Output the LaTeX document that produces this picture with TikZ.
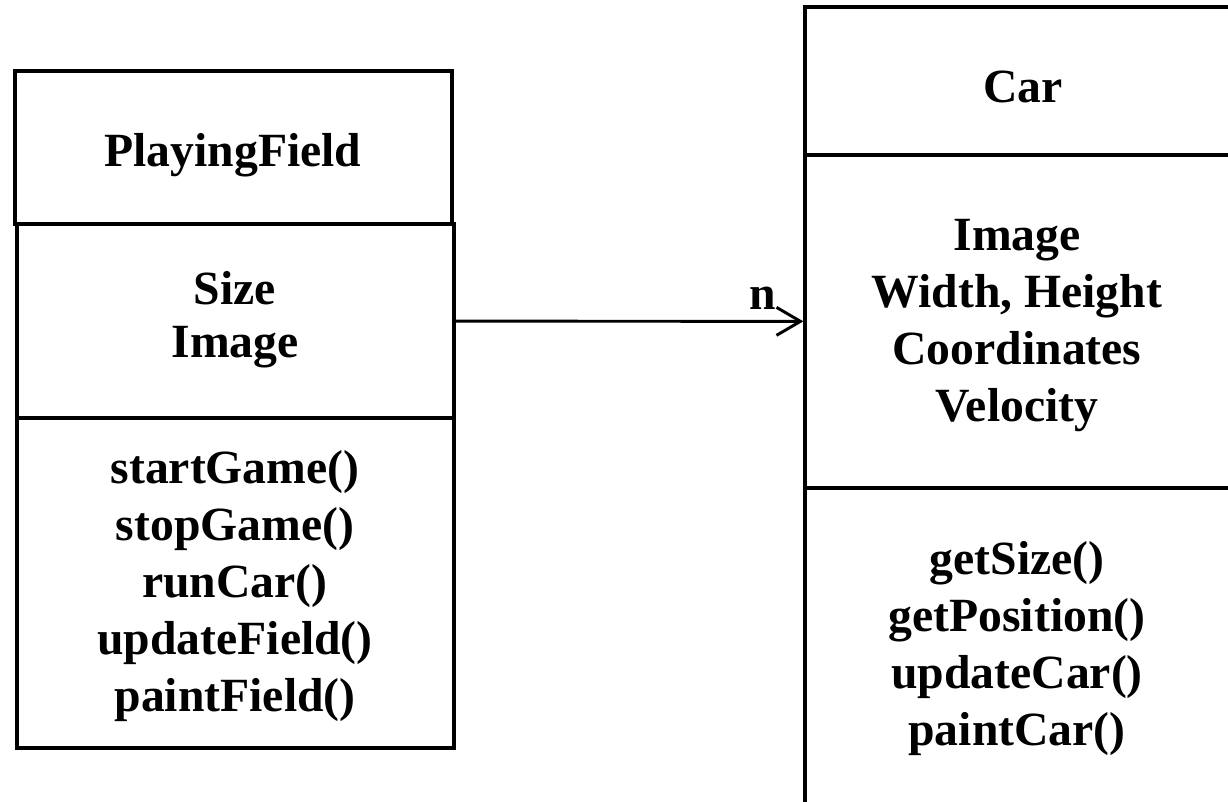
\documentclass[tikz,border=0pt]{standalone}
\usepackage{fontspec}
\setmainfont{Liberation Serif}
\usetikzlibrary{arrows.meta}
\begin{document}
\begin{tikzpicture}[x=0.75pt,y=-0.75pt,
  compartment/.style={draw=black,line width=2.4pt,rectangle,inner sep=0pt,
    minimum width=#1},
  label text/.style={align=center,inner sep=0pt,
    font=\fontsize{35.75pt}{42.75pt}\selectfont\bfseries},
  assoc/.style={line width=2.2pt,-{Straight Barb[length=18pt,width=21pt,line width=2.2pt]}}]
\useasboundingbox (0,0) rectangle (1228,802);
\fill[white] (0,0) rectangle (1228,802);
\begin{scope}
\clip (0,0) rectangle (1228,802);
% PlayingField class
\node[compartment=327.75pt,minimum height=114.75pt] (pfTitle) at (233.5,147.5) {};
\node[compartment=327.75pt,minimum height=145.5pt] (pfAttr) at (235.5,321) {};
\node[compartment=327.75pt,minimum height=247.5pt] (pfOps) at (235.5,583) {};
% Car class
\node[compartment=326.25pt,minimum height=111pt] (carTitle) at (1022.5,81) {};
\node[compartment=326.25pt,minimum height=249.75pt] (carAttr) at (1022.5,321.5) {};
\node[compartment=326.25pt,minimum height=245.25pt] (carOps) at (1022.5,651.5) {};
\end{scope}
% compartment texts
\node[label text] (pfName) at (233,155) {PlayingField};
\node[label text,font=\fontsize{35.75pt}{39.75pt}\selectfont\bfseries] (pfFields) at (235,320) {Size\\Image};
\node[label text] (pfMethods) at (235,586) {startGame()\\stopGame()\\runCar()\\updateField()\\paintField()};
\node[label text] (carName) at (1023,87) {Car};
\node[label text] (carFields) at (1017,326) {Image\\Width, Height\\Coordinates\\Velocity};
\node[label text] (carMethods) at (1017,649) {getSize()\\getPosition()\\updateCar()\\paintCar()};
% association
\draw[assoc] (pfAttr) -- (carAttr);
\node[label text,anchor=base] (mult) at (762.5,310) {n};
\end{tikzpicture}
\end{document}
